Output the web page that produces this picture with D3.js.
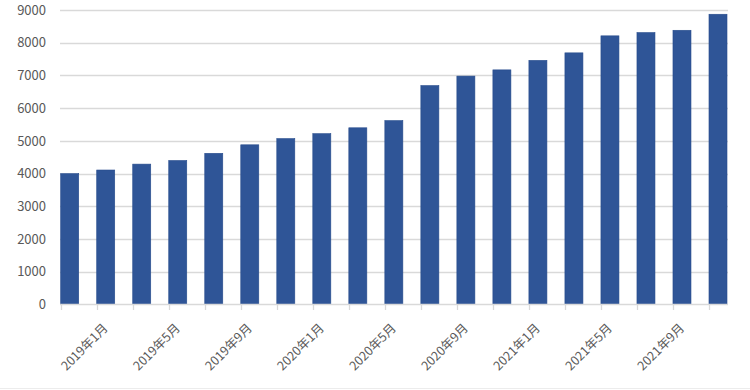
<!DOCTYPE html>
<html>
<head>
<meta charset="utf-8">
<script src="https://cdn.jsdelivr.net/npm/d3@7"></script>
<style>
  body { margin: 0; background: #fff; }
  svg { display: block; }
  .tick-label { font-family: "Noto Sans CJK SC", "Liberation Sans", sans-serif; fill: #595959; }
</style>
</head>
<body>
<svg id="chart" width="750" height="390"></svg>
<script>
var months = ["2018年11月", "2019年1月", "2019年3月", "2019年5月", "2019年7月", "2019年9月", "2019年11月",
  "2020年1月", "2020年3月", "2020年5月", "2020年7月", "2020年9月", "2020年11月",
  "2021年1月", "2021年3月", "2021年5月", "2021年7月", "2021年9月", "2021年11月"];
var values = [4000, 4110, 4290, 4400, 4620, 4880, 5070, 5220, 5400, 5620, 6690, 6980, 7170, 7460, 7690, 8210, 8310, 8380, 8870];
var shownLabels = ["2019年1月", "2019年5月", "2019年9月", "2020年1月", "2020年5月", "2020年9月", "2021年1月", "2021年5月", "2021年9月"];
var yTicks = [0, 1000, 2000, 3000, 4000, 5000, 6000, 7000, 8000, 9000];

var barColor = "#2f5597";
var gridColor = "#d9d9d9";

var svg = d3.select("#chart");

var x = d3.scaleBand()
  .domain(months)
  .range([60.7, 727])
  .paddingInner(0.5)
  .paddingOuter(0)
  .align(0);

var y = d3.scaleLinear()
  .domain([0, 9000])
  .range([304.5, 10]);

// gridlines
svg.append("g")
  .selectAll("line")
  .data(yTicks.filter(function(d) { return d > 0; }))
  .enter().append("line")
  .attr("x1", 60)
  .attr("x2", 728)
  .attr("y1", function(d) { return Math.round(y(d)) + 0.5; })
  .attr("y2", function(d) { return Math.round(y(d)) + 0.5; })
  .attr("stroke", gridColor)
  .attr("stroke-width", 1.3);

// y labels
svg.append("g")
  .selectAll("text")
  .data(yTicks)
  .enter().append("text")
  .attr("class", "tick-label")
  .attr("x", 46)
  .attr("y", function(d) { return y(d); })
  .attr("dy", "0.36em")
  .attr("text-anchor", "end")
  .style("font-size", "13px")
  .text(function(d) { return d; });

// bars
svg.append("g")
  .selectAll("rect")
  .data(values)
  .enter().append("rect")
  .attr("x", function(d, i) { return x(months[i]); })
  .attr("width", x.bandwidth())
  .attr("y", function(d) { return y(d); })
  .attr("height", function(d) { return y(0) - y(d); })
  .attr("fill", barColor)
  .attr("stroke", "#264b8c")
  .attr("stroke-width", 0.6);

// x axis line and ticks
svg.append("line")
  .attr("x1", 60).attr("x2", 728)
  .attr("y1", 304.5).attr("y2", 304.5)
  .attr("stroke", gridColor)
  .attr("stroke-width", 1.3);

svg.append("g")
  .selectAll("line")
  .data(months)
  .enter().append("line")
  .attr("x1", function(d) { return Math.round(x(d)) + 0.5; })
  .attr("x2", function(d) { return Math.round(x(d)) + 0.5; })
  .attr("y1", 304.5)
  .attr("y2", 310)
  .attr("stroke", gridColor)
  .attr("stroke-width", 1.3);

// x labels, rotated
svg.append("g")
  .selectAll("text")
  .data(shownLabels)
  .enter().append("text")
  .attr("class", "tick-label")
  .attr("text-anchor", "end")
  .style("font-size", "12.5px")
  .attr("transform", function(d) {
    var cx = x(d) + x.bandwidth() / 2 + 3;
    return "translate(" + cx + ",329) rotate(-45)";
  })
  .text(function(d) { return d; });

// bottom frame line
svg.append("line")
  .attr("x1", 0).attr("x2", 750)
  .attr("y1", 388.5).attr("y2", 388.5)
  .attr("stroke", "#ececec");
</script>
</body>
</html>
